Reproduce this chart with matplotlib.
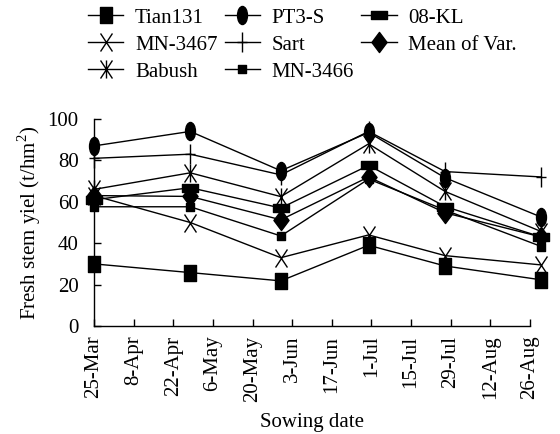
import numpy as np
import pandas as pd
import matplotlib
matplotlib.use("Agg")
import matplotlib.pyplot as plt
import matplotlib.dates as mdates
from matplotlib.path import Path

plt.rcParams["font.family"] = ["Liberation Serif", "DejaVu Serif"]
plt.rcParams["mathtext.fontset"] = "custom"
plt.rcParams["mathtext.rm"] = "Liberation Serif"

# sowing dates (points) and axis ticks
sowing = pd.to_datetime(["2012-03-25", "2012-04-28", "2012-05-30",
                         "2012-06-30", "2012-07-27", "2012-08-30"])
ticks = pd.date_range("2012-03-25", "2012-08-26", freq="14D")

tian131 = [30, 25.8, 21.8, 39, 29, 22.3]
pt3s = [87, 94, 75, 93.5, 71.6, 52.6]
kl08 = [61, 66.8, 57, 77.6, 57.7, 43]
mn3467 = [63, 50, 33, 44, 34, 29.5]
sart = [81, 83, 73, 94, 74.6, 72]
meanvar = [63, 62.6, 51.3, 72, 54.7, 43]
babush = [66, 74, 62.5, 88, 65, 45.6]
mn3466 = [57.6, 57.6, 43.5, 71, 56, 38.4]

M, L, C = Path.MOVETO, Path.LINETO, Path.CLOSEPOLY


def rect(w, h):
    return Path([(-w / 2, -h / 2), (w / 2, -h / 2), (w / 2, h / 2),
                 (-w / 2, h / 2), (-w / 2, -h / 2)], [M, L, L, L, C])


circ = Path.unit_circle()
ellipse = Path(circ.vertices * [0.55, 1.0], circ.codes)
diamond = Path([(0, -1), (0.75, 0), (0, 1), (-0.75, 0), (0, -1)], [M, L, L, L, C])
xmark = Path([(-0.33, -0.5), (0.33, 0.5), (-0.33, 0.5), (0.33, -0.5)], [M, L, M, L])
astmark = Path([(-0.33, -0.5), (0.33, 0.5), (-0.33, 0.5), (0.33, -0.5),
                (0, -0.5), (0, 0.5)], [M, L, M, L, M, L])
plusmark = Path([(-0.25, 0), (0.25, 0), (0, -0.5), (0, 0.5)], [M, L, M, L])

fig = plt.figure(figsize=(5.6, 4.34), dpi=100)
ax = fig.add_axes([94 / 560, 1 - 326 / 434, 436 / 560, 207 / 434])

series = [
    ("Tian131", tian131, rect(0.73, 1.0), 11, True),
    ("MN-3467", mn3467, xmark, 13, False),
    ("Babush", babush, astmark, 13, False),
    ("PT3-S", pt3s, ellipse, 13, True),
    ("Sart", sart, plusmark, 14.5, False),
    ("MN-3466", mn3466, rect(1.0, 1.0), 6, True),
    ("08-KL", kl08, rect(1.0, 0.5), 11, True),
    ("Mean of Var.", meanvar, diamond, 14.5, True),
]

handles = []
for name, vals, mk, ms, filled in series:
    h, = ax.plot(sowing, vals, color="black", lw=1.0, marker=mk, ms=ms,
                 mfc="black" if filled else "none", mec="black", mew=1.0,
                 clip_on=False, label=name)
    handles.append(h)

ax.set_xlim(ticks[0], ticks[-1])
ax.set_ylim(0, 100)
ax.set_yticks(range(0, 101, 20))
ax.set_xticks(ticks)
ax.set_xticklabels([f"{d.day}-{d.strftime('%b')}" for d in ticks], rotation=90)

for s in ["top", "right"]:
    ax.spines[s].set_visible(False)
for s in ["left", "bottom"]:
    ax.spines[s].set_linewidth(1.0)

ax.tick_params(axis="both", direction="in", length=5, width=1.0, labelsize=15)
ax.tick_params(axis="y", pad=11)
ax.tick_params(axis="x", pad=7)

ax.set_ylabel("Fresh stem yiel (t/hm$^2$)", fontsize=15)
ax.yaxis.set_label_coords(-0.117, 0.5)
ax.set_xlabel("Sowing date", fontsize=15, va="top")
ax.xaxis.set_label_coords(0.5, -0.418)

fig.legend(handles=handles, ncol=3, loc="upper left",
           bbox_to_anchor=(88 / 560, 1 - 8 / 434), frameon=False,
           fontsize=15, handlelength=1.7, handletextpad=0.55,
           columnspacing=0.35, labelspacing=0.36, borderpad=0,
           borderaxespad=0, numpoints=1)

fig.savefig("out.png", dpi=100)
